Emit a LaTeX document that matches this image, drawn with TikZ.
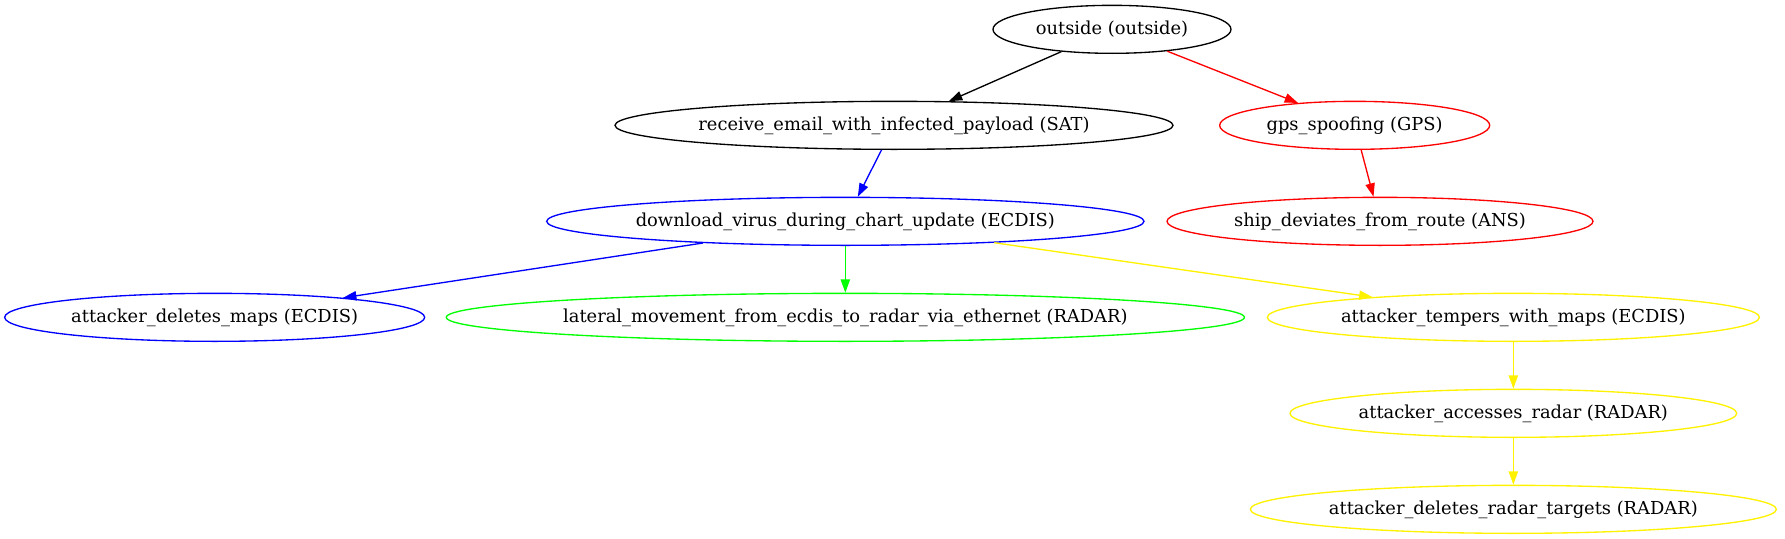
\documentclass[tikz,border=0pt]{standalone}
\usepackage{fontspec}
\setmainfont{DejaVu Serif}
\usepackage{tikz}
\usetikzlibrary{shapes.geometric,arrows.meta}

\begin{document}
\begin{tikzpicture}[
    event/.style={ellipse, draw, line width=1bp, inner sep=0pt, minimum height=36bp, text centered, font=\fontsize{13.4bp}{16bp}\selectfont},
    arrow/.style={-{Triangle[length=10bp,width=7bp]}, line width=1bp}
]
    \useasboundingbox (0bp,0bp) rectangle (1338.75bp,-404.25bp);

    % Attack steps
    \node[event, minimum width=178.5bp] (outside) at (834bp,-22bp) {outside (outside)};
    \node[event, minimum width=418.5bp] (email) at (670.5bp,-94bp) {receive\_email\_with\_infected\_payload (SAT)};
    \node[event, draw=red, minimum width=202.5bp] (gps) at (1016bp,-94bp) {gps\_spoofing (GPS)};
    \node[event, draw=blue, minimum width=448bp] (virus) at (634bp,-166bp) {download\_virus\_during\_chart\_update (ECDIS)};
    \node[event, draw=red, minimum width=319.5bp] (ship) at (1035bp,-166bp) {ship\_deviates\_from\_route (ANS)};
    \node[event, draw=blue, minimum width=315bp] (deletemaps) at (161bp,-238bp) {attacker\_deletes\_maps (ECDIS)};
    \node[event, draw=green, minimum width=595.5bp] (lateral) at (634bp,-238bp) {lateral\_movement\_from\_ecdis\_to\_radar\_via\_ethernet (RADAR)};
    \node[event, draw=yellow, minimum width=369bp] (tempers) at (1135bp,-238bp) {attacker\_tempers\_with\_maps (ECDIS)};
    \node[event, draw=yellow, minimum width=335bp] (accesses) at (1135bp,-310bp) {attacker\_accesses\_radar (RADAR)};
    \node[event, draw=yellow, minimum width=394.5bp] (targets) at (1135bp,-382bp) {attacker\_deletes\_radar\_targets (RADAR)};

    % Edges
    \draw[arrow] (outside) -- (email);
    \draw[arrow, red] (outside) -- (gps);
    \draw[arrow, blue] (email) -- (virus);
    \draw[arrow, red] (gps) -- (ship);
    \draw[arrow, blue] (virus) -- (deletemaps);
    \draw[arrow, green] (virus) -- (lateral);
    \draw[arrow, yellow] (virus) -- (tempers);
    \draw[arrow, yellow] (tempers) -- (accesses);
    \draw[arrow, yellow] (accesses) -- (targets);
\end{tikzpicture}
\end{document}
